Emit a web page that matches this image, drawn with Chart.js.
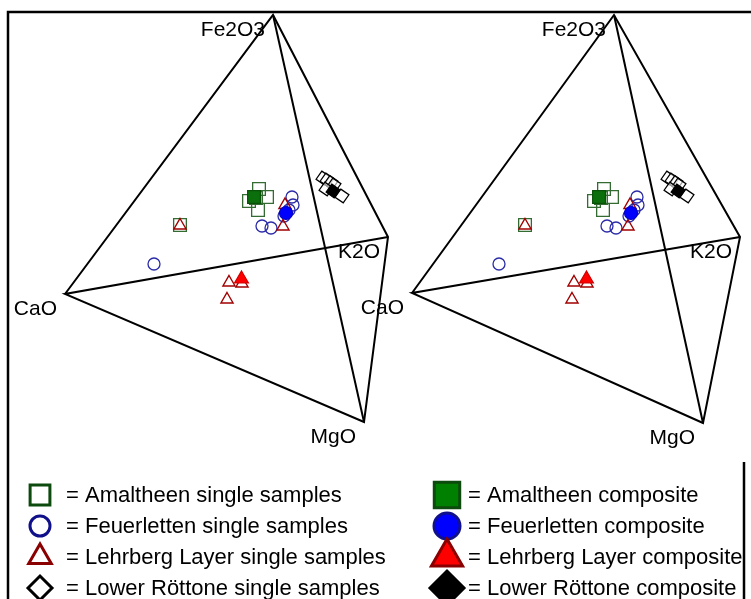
<!DOCTYPE html>
<html>
<head>
<meta charset="utf-8">
<script src="https://cdn.jsdelivr.net/npm/chart.js"></script>
<style>
  html, body { margin: 0; padding: 0; background: #fff; }
  #wrap { width: 751px; height: 599px; position: relative; }
</style>
</head>
<body>
<div id="wrap"><canvas id="tetra" width="751" height="599"></canvas></div>
<script>
// vertex order: CaO, Fe2O3, K2O, MgO
const vertexLabels = ['CaO', 'Fe2O3', 'K2O', 'MgO'];
const leftViewX  = [65, 273, 388, 364];
const leftViewY  = [294, 15, 237, 422];
const rightViewX = [412, 614, 740, 703];
const rightViewY = [293, 15, 237, 423];

// projected sample positions (left view); right view is the same cloud seen from the second eye
const amaltheenSingleX = [259, 267, 249, 258, 256, 180];
const amaltheenSingleY = [189, 197, 201, 210, 198, 225];
const amaltheenCompX = [254];
const amaltheenCompY = [197];

const feuerlettenSingleX = [154, 292, 293, 289, 284, 262, 271];
const feuerlettenSingleY = [264, 197, 205, 210, 216, 226, 228];
const feuerlettenCompX = [286];
const feuerlettenCompY = [213];

const lehrbergSingleX = [180, 285, 283, 229, 242, 227];
const lehrbergSingleY = [225.5, 205, 226.5, 282.5, 283.5, 299.5];
const lehrbergCompX = [241.5];
const lehrbergCompY = [279];

const rottoneSingleX = [323, 327, 331, 334, 326, 342];
const rottoneSingleY = [178, 180, 182.5, 185, 189, 196];
const rottoneCompX = [333];
const rottoneCompY = [191];

const stereoShift = 345;

const series = [
  { label: 'Amaltheen single samples', xs: amaltheenSingleX, ys: amaltheenSingleY,
    style: 'rect', rot: 0, r: 9, fill: 'rgba(0,0,0,0)', stroke: '#336b33', bw: 1.3, legendFill: '#fff', legendStroke: '#0d4a0d' },
  { label: 'Feuerletten single samples', xs: feuerlettenSingleX, ys: feuerlettenSingleY,
    style: 'circle', rot: 0, r: 6, fill: 'rgba(0,0,0,0)', stroke: '#2b2ba8', bw: 1.3, legendFill: '#fff', legendStroke: '#10108a' },
  { label: 'Lehrberg Layer single samples', xs: lehrbergSingleX, ys: lehrbergSingleY,
    style: 'triangle', rot: 0, r: 7, fill: 'rgba(0,0,0,0)', stroke: '#a00000', bw: 1.4, legendFill: '#fff', legendStroke: '#8a0000' },
  { label: 'Lower Röttone single samples', xs: rottoneSingleX, ys: rottoneSingleY,
    style: 'rect', rot: 35, r: 7, fill: 'rgba(255,255,255,0.6)', stroke: '#000', bw: 1.3, legendFill: '#fff', legendStroke: '#000' },
  { label: 'Amaltheen composite', xs: amaltheenCompX, ys: amaltheenCompY,
    style: 'rect', rot: 0, r: 9, fill: '#0b700b', stroke: '#085208', bw: 1.2, legendFill: '#008000', legendStroke: '#0d4a0d' },
  { label: 'Feuerletten composite', xs: feuerlettenCompX, ys: feuerlettenCompY,
    style: 'circle', rot: 0, r: 6.5, fill: '#0000ff', stroke: '#0000c8', bw: 1.2, legendFill: '#0000ff', legendStroke: '#10108a' },
  { label: 'Lehrberg Layer composite', xs: lehrbergCompX, ys: lehrbergCompY,
    style: 'triangle', rot: 0, r: 8, fill: '#ff0000', stroke: '#d00000', bw: 1.2, legendFill: '#ff0000', legendStroke: '#8a0000' },
  { label: 'Lower Röttone composite', xs: rottoneCompX, ys: rottoneCompY,
    style: 'rect', rot: 35, r: 7, fill: '#000', stroke: '#000', bw: 1.2, legendFill: '#000', legendStroke: '#000' }
];

const legendStyle = [
  { style: 'rect', rot: 0, r: 14, bw: 3 },
  { style: 'circle', rot: 0, r: 10, bw: 3 },
  { style: 'triangle', rot: 0, r: 13, bw: 3 },
  { style: 'rectRot', rot: 0, r: 12, bw: 3 },
  { style: 'rect', rot: 0, r: 18, bw: 3 },
  { style: 'circle', rot: 0, r: 13, bw: 3 },
  { style: 'triangle', rot: 0, r: 18, bw: 3 },
  { style: 'rectRot', rot: 0, r: 17, bw: 3 }
];

function pts(xs, ys, shift) {
  return xs.map((x, i) => ({ x: x + shift, y: ys[i] }));
}

function edgeDatasets(vx, vy) {
  const v = vx.map((x, i) => ({ x, y: vy[i] }));
  const common = { type: 'scatter', showLine: true, pointRadius: 0, borderColor: '#000',
                   borderWidth: 2, fill: false, order: 100, tension: 0 };
  return [
    Object.assign({ data: [v[0], v[1], v[2], v[3], v[0], v[2]] }, common),
    Object.assign({ data: [v[1], v[3]] }, common)
  ];
}

function pointDatasets(shift) {
  return series.map((s, i) => ({
    type: 'scatter',
    label: s.label,
    data: pts(s.xs, s.ys, shift),
    pointStyle: s.style,
    rotation: s.rot,
    pointRadius: s.r,
    pointBackgroundColor: s.fill,
    pointBorderColor: s.stroke,
    pointBorderWidth: s.bw,
    order: i < 4 ? 20 - i : 10 - i
  }));
}

function drawSymbol(ctx, opts, x, y) {
  if (Chart.helpers && Chart.helpers.drawPoint) {
    Chart.helpers.drawPoint(ctx, { pointStyle: opts.style, rotation: opts.rot, radius: opts.r, borderWidth: opts.bw }, x, y);
  }
}

const framePlugin = {
  id: 'frame',
  beforeDatasetsDraw(chart) {
    const ctx = chart.ctx;
    ctx.save();
    ctx.strokeStyle = '#000';
    ctx.lineWidth = 2.5;
    ctx.beginPath();
    ctx.moveTo(8, 599);
    ctx.lineTo(8, 12);
    ctx.lineTo(751, 12);
    ctx.moveTo(744, 462);
    ctx.lineTo(744, 599);
    ctx.stroke();
    ctx.restore();
  }
};

const labelPlugin = {
  id: 'vertexLabels',
  afterDatasetsDraw(chart) {
    const ctx = chart.ctx;
    const sx = chart.scales.x, sy = chart.scales.y;
    ctx.save();
    ctx.fillStyle = '#000';
    ctx.font = '21px "Liberation Sans", Arial, sans-serif';
    ctx.textAlign = 'right';
    ctx.textBaseline = 'middle';
    [[leftViewX, leftViewY], [rightViewX, rightViewY]].forEach(([vx, vy]) => {
      vertexLabels.forEach((txt, i) => {
        ctx.fillText(txt, sx.getPixelForValue(vx[i]) - 8, sy.getPixelForValue(vy[i]) + 15);
      });
    });
    ctx.restore();
  }
};

const legendPlugin = {
  id: 'sampleLegend',
  afterDraw(chart) {
    const ctx = chart.ctx;
    ctx.save();
    ctx.font = '22px "Liberation Sans", Arial, sans-serif';
    ctx.textBaseline = 'middle';
    ctx.textAlign = 'left';
    series.forEach((s, i) => {
      const col = i < 4 ? 0 : 1;
      const row = i % 4;
      const y = 495 + row * 31;
      const symX = col === 0 ? 40 : 447;
      const txtX = col === 0 ? 66 : 468;
      ctx.fillStyle = s.legendFill;
      ctx.strokeStyle = s.legendStroke;
      ctx.lineWidth = legendStyle[i].bw;
      drawSymbol(ctx, legendStyle[i], symX, y);
      ctx.fillStyle = '#000';
      ctx.fillText('= ' + s.label, txtX, y + 1);
    });
    ctx.restore();
  }
};

window.addEventListener('DOMContentLoaded', () => {
  const datasets = []
    .concat(edgeDatasets(leftViewX, leftViewY))
    .concat(edgeDatasets(rightViewX, rightViewY))
    .concat(pointDatasets(0))
    .concat(pointDatasets(stereoShift));

  new Chart(document.getElementById('tetra'), {
    type: 'scatter',
    data: { datasets },
    options: {
      responsive: false,
      animation: false,
      layout: { padding: 0, autoPadding: false },
      plugins: { legend: { display: false }, tooltip: { enabled: false } },
      scales: {
        x: { type: 'linear', display: false, min: 0, max: 751 },
        y: { type: 'linear', display: false, min: 0, max: 599, reverse: true }
      }
    },
    plugins: [framePlugin, labelPlugin, legendPlugin]
  });
});
</script>
</body>
</html>
